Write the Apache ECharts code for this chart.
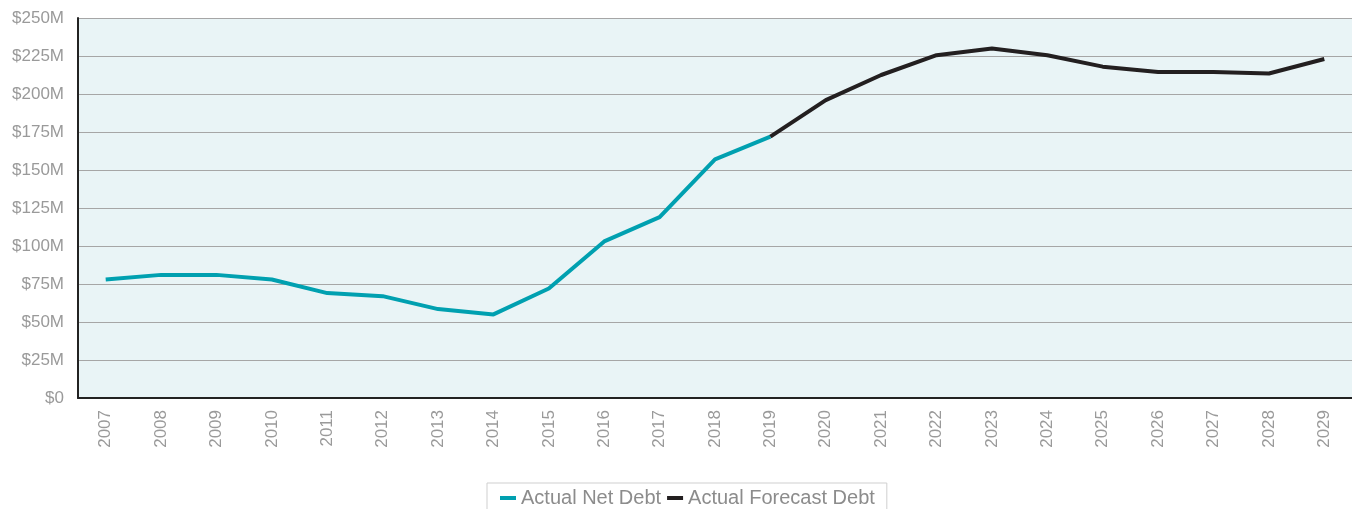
<!DOCTYPE html>
<html><head><meta charset="utf-8">
<script src="https://cdn.jsdelivr.net/npm/echarts@6/dist/echarts.min.js"></script>
<style>html,body{margin:0;padding:0;background:#fff}#c{width:1352px;height:509px}</style>
</head><body><div id="c"></div>
<script>
const years = ['2007','2008','2009','2010','2011','2012','2013','2014','2015','2016','2017','2018','2019','2020','2021','2022','2023','2024','2025','2026','2027','2028','2029'];
const actualNetDebt = [78,81,81,78,69,67,58.5,55,72,103,119,157,172,null,null,null,null,null,null,null,null,null,null];
const forecastDebt = [null,null,null,null,null,null,null,null,null,null,null,null,172,196,212.5,225.5,230,225.5,218,214.5,214.5,213.5,223];
const yTicks = [0,25,50,75,100,125,150,175,200,225,250];

const chart = echarts.init(document.getElementById('c'));
chart.setOption({
  animation:false,
  textStyle:{fontFamily:'Liberation Sans, Arial, sans-serif'},
  grid:{left:78,right:0,top:18,bottom:111,show:true,backgroundColor:'#e9f4f6',borderWidth:0},
  legend:{
    bottom:-8,left:487,
    data:['Actual Net Debt','Actual Forecast Debt'],
    itemWidth:16,itemHeight:4,itemGap:6,
    icon:'rect',
    borderColor:'#cfcfcf',borderWidth:1,padding:[5,12,9,13],
    textStyle:{color:'#8c8c8c',fontSize:20,padding:[0,0,0,0]}
  },
  xAxis:{
    type:'category',data:years,boundaryGap:true,
    axisLine:{lineStyle:{color:'#222',width:2}},
    axisTick:{show:false},
    axisLabel:{rotate:90,color:'#9a9a9a',fontSize:17,margin:12}
  },
  yAxis:{
    type:'value',min:0,max:250,interval:25,
    axisLine:{show:true,lineStyle:{color:'#222',width:2}},
    axisTick:{show:false},
    splitLine:{lineStyle:{color:'#a6a6a6',width:1.2}},
    axisLabel:{color:'#9a9a9a',fontSize:17,margin:14,formatter:v=>v===0?'$0':'$'+v+'M'}
  },
  series:[
    {name:'Actual Net Debt',type:'line',data:actualNetDebt,symbol:'none',
      lineStyle:{color:'#00a0b0',width:4},itemStyle:{color:'#00a0b0'}},
    {name:'Actual Forecast Debt',type:'line',data:forecastDebt,symbol:'none',
      lineStyle:{color:'#231f20',width:4},itemStyle:{color:'#231f20'}}
  ]
});
</script></body></html>
